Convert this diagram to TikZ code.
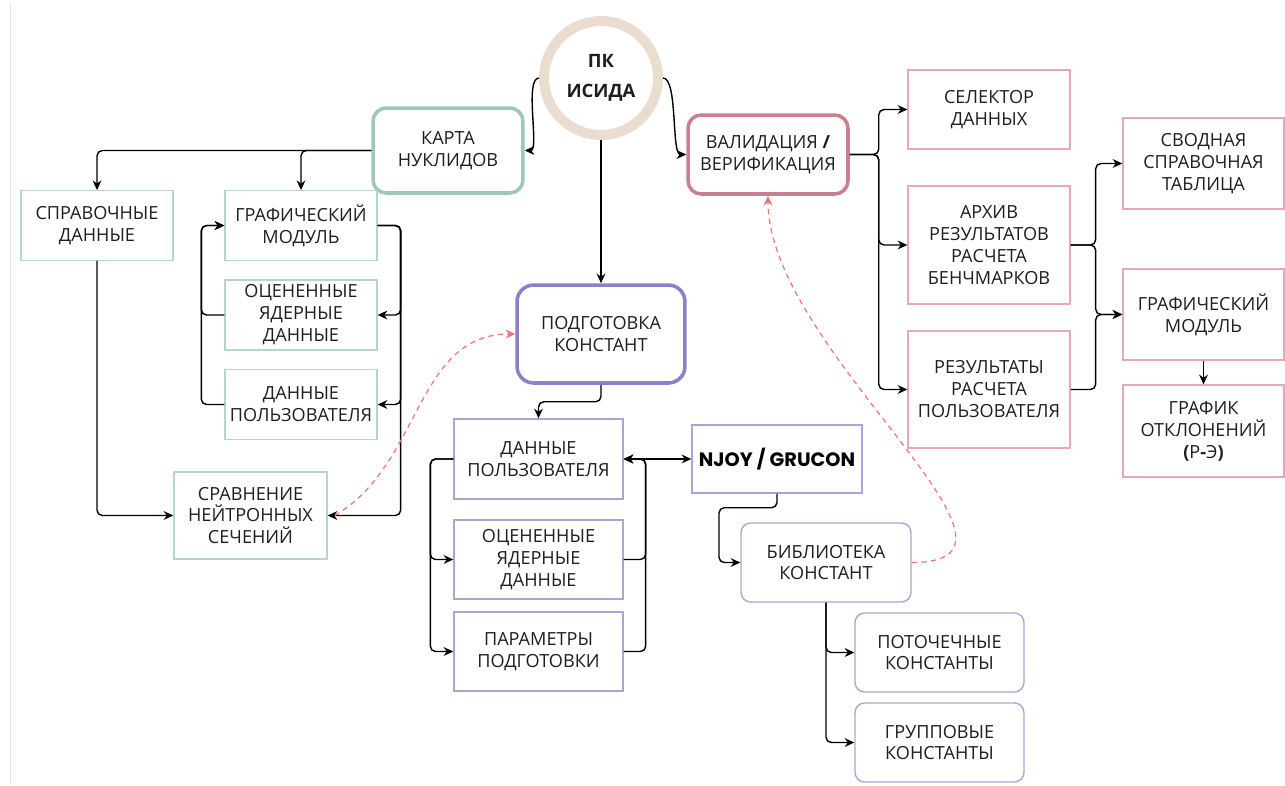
\documentclass[tikz,border=0pt]{standalone}
\usepackage{fontspec}
\setmainfont{Open Sans}
\newfontfamily\njoyfont{Poppins}
\usetikzlibrary{arrows.meta}
\definecolor{ringc}{HTML}{EADDCF}
\definecolor{tealc}{HTML}{9CC7BC}
\definecolor{tealt}{HTML}{B5D6CD}
\definecolor{violc}{HTML}{8E80C8}
\definecolor{violt}{HTML}{ABA5D5}
\definecolor{pinkc}{HTML}{CB7E8D}
\definecolor{pinkt}{HTML}{E3A9B4}
\definecolor{dashc}{HTML}{F07474}
\definecolor{txtc}{HTML}{1E1E1E}

\begin{document}
\begin{tikzpicture}[x=0.02cm,y=-0.02cm,
    >={Stealth[length=5.5pt,width=5pt]},
    every node/.style={align=center,text=txtc,inner sep=0pt,font=\fontsize{10.3}{12.5}\selectfont},
    box/.style={draw,line width=0.8pt},
    bigbox/.style={draw,line width=2pt,rounded corners=7.5pt},
    link/.style={->,line width=0.8pt,rounded corners=3pt},
    dlink/.style={->,dashc,line width=0.7pt,dash pattern=on 3pt off 2.5pt}]
\useasboundingbox (0,0) rectangle (1285,785);
\draw[black!10,line width=1pt] (10.5,5) -- (10.5,785);

\node[circle,draw=ringc,line width=0.2cm,minimum size=2.28cm,font=\fontsize{10.5}{17}\selectfont\bfseries] (isida) at (601,78) {ПК\\ИСИДА};

\node[bigbox,draw=tealc,minimum width=3cm,minimum height=1.7cm] (karta) at (448,150.5) {КАРТА\\НУКЛИДОВ};
\node[bigbox,draw=pinkc,minimum width=3.2cm,minimum height=1.58cm] (valid) at (768,154.5) {ВАЛИДАЦИЯ \textbf{/}\\ВЕРИФИКАЦИЯ};
\node[bigbox,draw=violc,minimum width=3.36cm,minimum height=1.96cm,rounded corners=9.5pt] (podg) at (601,334) {ПОДГОТОВКА\\КОНСТАНТ};

\node[box,draw=tealt,minimum width=3.04cm,minimum height=1.39cm] (sprav) at (97,225.5) {СПРАВОЧНЫЕ\\ДАННЫЕ};
\node[box,draw=tealt,minimum width=3.04cm,minimum height=1.39cm] (grafL) at (301,225.5) {ГРАФИЧЕСКИЙ\\МОДУЛЬ};
\node[box,draw=tealt,minimum width=3.04cm,minimum height=1.4cm] (ocenL) at (301,315) {ОЦЕНЕННЫЕ\\ЯДЕРНЫЕ\\ДАННЫЕ};
\node[box,draw=tealt,minimum width=3.04cm,minimum height=1.39cm] (danL) at (301,404.5) {ДАННЫЕ\\ПОЛЬЗОВАТЕЛЯ};
\node[box,draw=tealt,minimum width=3.06cm,minimum height=1.74cm] (sravn) at (250.5,515.5) {СРАВНЕНИЕ\\НЕЙТРОННЫХ\\СЕЧЕНИЙ};

\node[box,draw=violt,minimum width=3.38cm,minimum height=1.6cm] (danM) at (538.5,459) {ДАННЫЕ\\ПОЛЬЗОВАТЕЛЯ};
\node[box,draw=violt,minimum width=3.38cm,minimum height=1.58cm] (ocenM) at (538.5,559.5) {ОЦЕНЕННЫЕ\\ЯДЕРНЫЕ\\ДАННЫЕ};
\node[box,draw=violt,minimum width=3.38cm,minimum height=1.58cm] (param) at (538.5,651.5) {ПАРАМЕТРЫ\\ПОДГОТОВКИ};
\node[box,draw=violt,minimum width=3.4cm,minimum height=1.36cm,text=black,font=\njoyfont\bfseries\fontsize{11}{13}\selectfont] (njoy) at (777,459) {NJOY / GRUCON};
\node[box,draw=violt,minimum width=3.4cm,minimum height=1.58cm,rounded corners=5.5pt] (bibl) at (826,562.5) {БИБЛИОТЕКА\\КОНСТАНТ};
\node[box,draw=violt,minimum width=3.38cm,minimum height=1.58cm,rounded corners=5.5pt] (potoch) at (939.5,652.5) {ПОТОЧЕЧНЫЕ\\КОНСТАНТЫ};
\node[box,draw=violt,minimum width=3.38cm,minimum height=1.58cm,rounded corners=5.5pt] (grupp) at (939.5,742.5) {ГРУППОВЫЕ\\КОНСТАНТЫ};

\node[box,draw=pinkt,minimum width=3.24cm,minimum height=1.58cm] (selek) at (989,109.5) {СЕЛЕКТОР\\ДАННЫХ};
\node[box,draw=pinkt,minimum width=3.24cm,minimum height=2.36cm] (arhiv) at (989,245) {АРХИВ\\РЕЗУЛЬТАТОВ\\РАСЧЕТА\\БЕНЧМАРКОВ};
\node[box,draw=pinkt,minimum width=3.24cm,minimum height=2.34cm] (rezult) at (989,389.5) {РЕЗУЛЬТАТЫ\\РАСЧЕТА\\ПОЛЬЗОВАТЕЛЯ};
\node[box,draw=pinkt,minimum width=3.22cm,minimum height=1.82cm] (svod) at (1203.5,163.5) {СВОДНАЯ\\СПРАВОЧНАЯ\\ТАБЛИЦА};
\node[box,draw=pinkt,minimum width=3.22cm,minimum height=1.82cm] (grafR) at (1203.5,314.5) {ГРАФИЧЕСКИЙ\\МОДУЛЬ};
\node[box,draw=pinkt,minimum width=3.22cm,minimum height=1.84cm] (grafik) at (1203.5,431) {ГРАФИК\\ОТКЛОНЕНИЙ\\\textbf{(}Р\textbf{-}Э\textbf{)}};

\draw[link] (isida.west) .. controls +(-15,0) and +(15,0) .. (karta.east);
\draw[link] (isida.east) .. controls +(15,0) and +(-15,0) .. (valid.west);
\draw[link] (isida.south) -- (podg.north);

\draw[link] (karta.west) -| (sprav.north);
\draw[link] (karta.west) -| (grafL.north);
\draw[link] (grafL.east) -- ++(23,0) |- (ocenL.east);
\draw[link] (grafL.east) -- ++(23,0) |- (danL.east);
\draw[link] (grafL.east) -- ++(23,0) |- (sravn.east);
\draw[link] (ocenL.west) -- ++(-23,0) |- (grafL.west);
\draw[link] (danL.west) -- ++(-23,0) |- (grafL.west);
\draw[link] (sprav.south) |- (sravn.west);
\draw[dlink] ([xshift=4pt]sravn.east) to[out=30,in=180] (podg.west);

\draw[link] (podg.south) -- ++(0,17) -| (danM.north);
\draw[link] (danM.west) -- ++(-23,0) |- (ocenM.west);
\draw[link] (danM.west) -- ++(-23,0) |- (param.west);
\draw[link] (ocenM.east) -- ++(22,0) |- (danM.east);
\draw[link] (param.east) -- ++(22,0) |- (danM.east);
\draw[link,<->] (danM.east) -- (njoy.west);
\draw[link] (njoy.south) -- ++(0,14) -- ++(-58,0) |- (bibl.west);
\draw[link] (bibl.south) |- (potoch.west);
\draw[link] (bibl.south) |- (grupp.west);
\draw[dlink] (bibl.east) to[out=0,in=-90] (valid.south);

\draw[link] (valid.east) -- ++(29,0) |- (selek.west);
\draw[link] (valid.east) -- ++(29,0) |- (arhiv.west);
\draw[link] (valid.east) -- ++(29,0) |- (rezult.west);
\draw[link] (arhiv.east) -- ++(25,0) |- (svod.west);
\draw[link] (arhiv.east) -- ++(25,0) |- (grafR.west);
\draw[link] (rezult.east) -- ++(25,0) |- (grafR.west);
\draw[link] (grafR.south) -- (grafik.north);
\end{tikzpicture}
\end{document}
